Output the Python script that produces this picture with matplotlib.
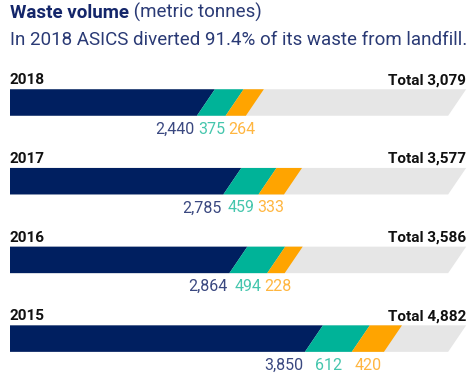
import matplotlib
matplotlib.use('Agg')
import matplotlib.pyplot as plt
from matplotlib.patches import Polygon

# data (metric tonnes)
years = ['2018', '2017', '2016', '2015']
landfill_diverted = [2440, 2785, 2864, 3850]
recycled = [375, 459, 494, 612]
other = [264, 333, 228, 420]
totals = ['3,079', '3,577', '3,586', '4,882']

seg_colors = ['#001f60', '#00b398', '#ffa400']
lbl_colors = ['#3a4880', '#45c6ad', '#ffb640']
track_color = '#e6e6e6'
title_color = '#14266a'

plt.rcParams['font.family'] = ['Roboto', 'DejaVu Sans']

W, H = 471, 375
fig = plt.figure(figsize=(W / 100, H / 100), dpi=100)
ax = fig.add_axes([0, 0, 1, 1])

# layout: pixels per tonne, row pitch in pixels
k = 0.0766
left_px = 10
pitch = 78.7
first_px = 102.5
bar_h = 26.5 / pitch
slant = 18 / k
track_max = 5720

ax.set_xlim(-left_px / k, (W - left_px) / k)
ax.set_ylim((H - first_px) / pitch, -first_px / pitch)
ax.axis('off')


def seg(ax, x0, x1, y, color, square_left=False):
    top, bot = y - bar_h / 2, y + bar_h / 2
    tl = x0 if square_left else x0 + slant
    pts = [(x0, bot), (tl, top), (x1 + slant, top), (x1, bot)]
    ax.add_patch(Polygon(pts, closed=True, facecolor=color, edgecolor='none'))


fig.canvas.draw()
renderer = fig.canvas.get_renderer()

for i, yr in enumerate(years):
    vals = [landfill_diverted[i], recycled[i], other[i]]
    seg(ax, 0, track_max, i, track_color, square_left=True)
    c = 0
    bounds = []
    for j, v in enumerate(vals):
        seg(ax, c, c + v, i, seg_colors[j], square_left=(j == 0))
        bounds.append((c, c + v))
        c += v

    # year + total above the bar
    ax.annotate(yr, xy=(0, i - bar_h / 2), xytext=(0, 5), textcoords='offset pixels',
                ha='left', va='baseline', fontsize=11, fontweight='bold', color='#111111')
    ax.annotate('Total ' + totals[i], xy=(track_max + slant, i - bar_h / 2), xytext=(0, 5),
                textcoords='offset pixels', ha='right', va='baseline',
                fontsize=11, fontweight='bold', color='#111111')

    # value labels under the bar
    yb = i + bar_h / 2
    t0 = ax.annotate(f'{vals[0]:,}', xy=(bounds[0][1], yb), xytext=(-2, -18),
                     textcoords='offset pixels', ha='right', va='baseline',
                     fontsize=11.5, color=lbl_colors[0])
    prev = t0
    for j in (1, 2):
        mid = (bounds[j][0] + bounds[j][1]) / 2
        t = ax.annotate(f'{vals[j]:,}', xy=(mid, yb), xytext=(0, -18),
                        textcoords='offset pixels', ha='center', va='baseline',
                        fontsize=11.5, color=lbl_colors[j])
        pe = prev.get_window_extent(renderer)
        te = t.get_window_extent(renderer)
        if te.x0 < pe.x1 + 3:
            t.set_position((pe.x1 + 3 - te.x0, -18))
        prev = t

t1 = fig.text(left_px / W, 1 - 22 / H, 'Waste volume', fontsize=13.5, fontweight='bold',
              color=title_color, ha='left', va='bottom')
ax.annotate(' (metric tonnes)', xy=(1, 0), xycoords=t1, ha='left', va='bottom',
            fontsize=13.5, color='#2a3a75', annotation_clip=False)
fig.text(left_px / W, 1 - 49 / H, 'In 2018 ASICS diverted 91.4% of its waste from landfill.',
         fontsize=13.5, color='#2a3a75', ha='left', va='bottom')

fig.savefig('out.png', dpi=100)
